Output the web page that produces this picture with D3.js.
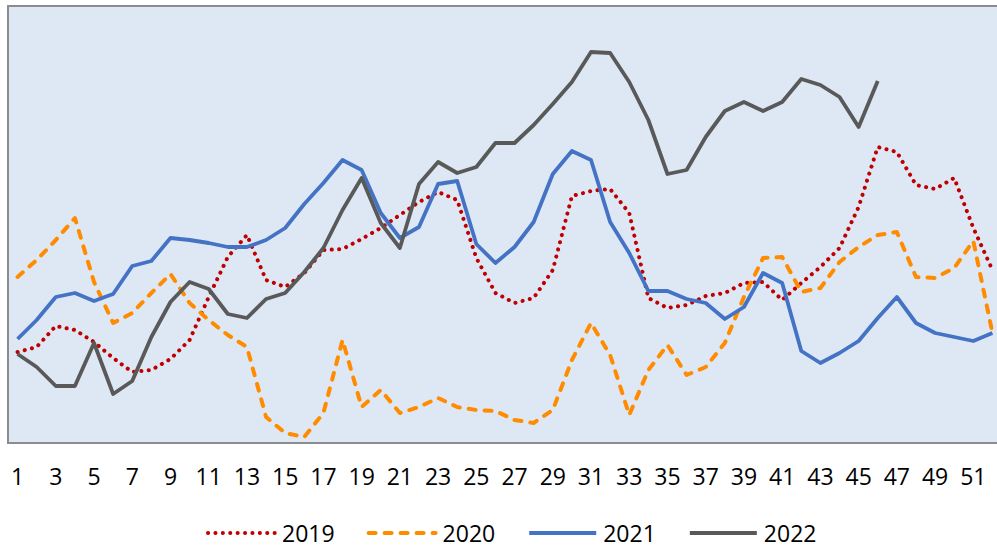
<!DOCTYPE html>
<html lang="en">
<head>
<meta charset="UTF-8">
<title>Weekly series 2019-2022</title>
<script src="https://d3js.org/d3.v7.min.js"></script>
<style>
    body { margin: 0; background: #fff; }
    text { font-family: "Open Sans", "Noto Sans", sans-serif; fill: #000; }
</style>
</head>
<body>
<script>
// weeks of the year and the odd ones that get a label
const weeks = d3.range(1, 53);
const tickWeeks = weeks.filter(w => w % 2 === 1);

// weekly values per year
const s2019 = [91, 96, 117, 113, 101, 85, 71, 73, 84, 103, 146, 186, 208, 163, 156, 170, 193, 194, 204, 215,
    228, 241, 251, 243, 185, 150, 140, 145, 173, 247, 252, 254, 230, 145, 135, 138, 147, 150, 160, 161,
    143, 160, 176, 195, 236, 296, 291, 258, 254, 265, 215, 173];
const s2020 = [166, 183, 203, 225, 161, 120, 130, 150, 169, 140, 123, 108, 96, 26, 10, 6, 30, 103, 36, 53,
    30, 36, 45, 36, 33, 32, 23, 20, 33, 83, 120, 88, 28, 73, 98, 68, 76, 100, 146, 185,
    186, 151, 155, 181, 196, 208, 211, 166, 165, 175, 202, 110];
const s2021 = [104, 123, 146, 150, 142, 149, 177, 182, 205, 203, 200, 196, 196, 203, 215, 239, 260, 283, 273, 230,
    205, 216, 259, 262, 199, 180, 196, 221, 269, 292, 283, 221, 190, 152, 152, 144, 140, 124, 136, 170,
    160, 92, 80, 90, 102, 125, 146, 120, 110, 106, 102, 110];
const s2022 = [89, 76, 57, 57, 100, 49, 62, 106, 141, 161, 154, 129, 125, 144, 150, 171, 195, 233, 265, 220,
    195, 259, 281, 270, 276, 300, 300, 318, 339, 361, 391, 390, 361, 323, 269, 273, 306, 332, 341, 332,
    341, 364, 358, 346, 316, 362];

const series = [
    { name: "2019", values: s2019, color: "#c00000", width: 4, dash: "0.1,7.3", cap: "round" },
    { name: "2020", values: s2020, color: "#ff8c00", width: 4, dash: "7,9", cap: "round" },
    { name: "2021", values: s2021, color: "#4472c4", width: 3.8, dash: null, cap: "butt" },
    { name: "2022", values: s2022, color: "#595959", width: 3.8, dash: null, cap: "butt" }
];

const width = 997, height = 548;
const plot = { left: 8, top: 6, right: 1002, bottom: 443 };

const svg = d3.select("body").append("svg")
    .attr("width", width)
    .attr("height", height);

const x = d3.scaleBand()
    .domain(weeks)
    .range([plot.left, plot.right]);

const y = d3.scaleLinear()
    .domain([0, 437])
    .range([plot.bottom, plot.top]);

// plot area
svg.append("rect")
    .attr("x", plot.left)
    .attr("y", plot.top)
    .attr("width", plot.right - plot.left)
    .attr("height", plot.bottom - plot.top)
    .attr("fill", "#dde8f4")
    .attr("stroke", "#8c8c8c")
    .attr("stroke-width", 2);

// x axis labels
const xAxis = svg.append("g")
    .attr("transform", `translate(0,${plot.bottom})`)
    .call(d3.axisBottom(x).tickValues(tickWeeks).tickSize(0));
xAxis.select(".domain").remove();
xAxis.selectAll("text")
    .attr("y", 42)
    .attr("dy", 0)
    .style("font-size", "23px")
    .style("font-family", "'Open Sans', 'Noto Sans', sans-serif")
    .attr("fill", "#000");

const line = d3.line()
    .x((d, i) => x(weeks[i]) + x.bandwidth() / 2)
    .y(d => y(d));

svg.append("g")
    .selectAll("path")
    .data(series)
    .join("path")
    .attr("d", d => line(d.values))
    .attr("fill", "none")
    .attr("stroke", d => d.color)
    .attr("stroke-width", d => d.width)
    .attr("stroke-dasharray", d => d.dash)
    .attr("stroke-linecap", d => d.cap)
    .attr("stroke-linejoin", "round");

// legend
const legend = svg.append("g");
let lx = 208;
series.forEach(s => {
    legend.append("line")
        .attr("x1", lx).attr("x2", lx + 67)
        .attr("y1", 533).attr("y2", 533)
        .attr("stroke", s.color)
        .attr("stroke-width", s.width)
        .attr("stroke-dasharray", s.dash)
        .attr("stroke-linecap", s.cap);
    const t = legend.append("text")
        .attr("x", lx + 74)
        .attr("y", 542)
        .style("font-size", "23px")
        .text(s.name);
    lx += 74 + t.node().getComputedTextLength() + 34;
});
</script>
</body>
</html>
